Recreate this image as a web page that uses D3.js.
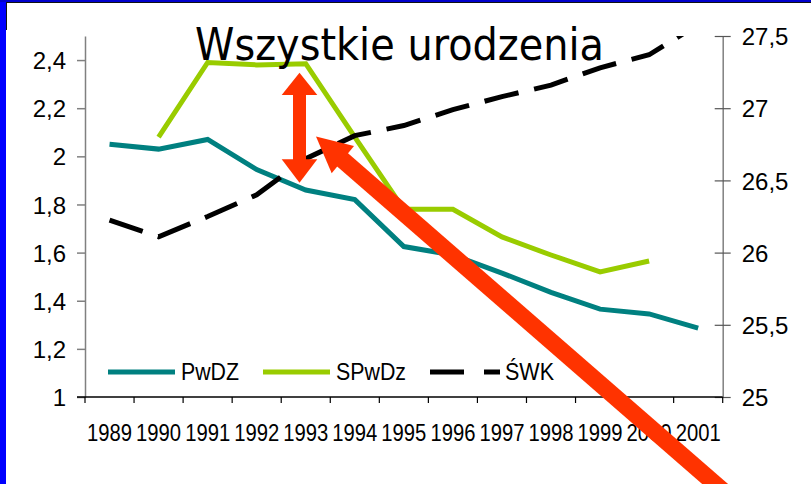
<!DOCTYPE html>
<html>
<head>
<meta charset="utf-8">
<script src="https://cdn.jsdelivr.net/npm/d3@7"></script>
<style>
    body { margin: 0; background: #fff; }
    svg { display: block; }
</style>
</head>
<body>
<div id="viz"></div>
<script>
const years = ["1989", "1990", "1991", "1992", "1993", "1994", "1995", "1996", "1997", "1998", "1999", "2000", "2001"]
const pwdz = [2.05, 2.03, 2.07, 1.945, 1.86, 1.82, 1.625, 1.59, 1.515, 1.435, 1.365, 1.345, 1.286]
const spwdz = [null, 2.08, 2.39, 2.38, 2.385, 2.08, 1.78, 1.78, 1.665, 1.59, 1.52, 1.565, null]
const swk = [26.225, 26.11, 26.25, 26.40, 26.65, 26.81, 26.88, 26.99, 27.08, 27.16, 27.28, 27.37, 27.58]
const leftTicks = [1, 1.2, 1.4, 1.6, 1.8, 2, 2.2, 2.4]
const rightTicks = [25, 25.5, 26, 26.5, 27, 27.5]
const seriesNames = ["PwDZ", "SPwDz", "ŚWK"]
const title = "Wszystkie urodzenia"

const FONT = "'Liberation Sans', Arial, sans-serif"
const W = 811, H = 484
const svg = d3.select("#viz").append("svg").attr("width", W).attr("height", H)
    .attr("font-family", FONT)

// frame
svg.append("rect").attr("x", 0).attr("y", 0).attr("width", 6).attr("height", H).attr("fill", "#0000ff")
svg.append("rect").attr("x", 0).attr("y", 0).attr("width", W).attr("height", 2).attr("fill", "#0000cc")
svg.append("line").attr("x1", 6).attr("x2", W).attr("y1", 2.5).attr("y2", 2.5).attr("stroke", "#111").attr("stroke-width", 1)
svg.append("line").attr("x1", 6.5).attr("x2", 6.5).attr("y1", 2).attr("y2", 30).attr("stroke", "#111").attr("stroke-width", 1)

const mLeft = 85, mRight = 722.7, mTop = 36, mBottom = 397
const x = d3.scaleBand().domain(years).range([mLeft, mRight]).padding(0)
const cx = d => x(d) + x.bandwidth() / 2
const yL = d3.scaleLinear().domain([1, 2.5]).range([mBottom, mTop])
const yR = d3.scaleLinear().domain([25, 27.5]).range([mBottom, mTop])
const fmt = d => String(d).replace(".", ",")

svg.append("clipPath").attr("id", "plot")
    .append("rect").attr("x", mLeft).attr("y", mTop).attr("width", mRight - mLeft).attr("height", mBottom - mTop)

// left axis
const gL = svg.append("g").attr("transform", `translate(${mLeft},0)`)
    .call(d3.axisLeft(yL).tickValues(leftTicks).tickFormat(fmt).tickSizeOuter(0).tickSizeInner(8).tickPadding(11))
    .attr("font-family", FONT)
gL.select(".domain").attr("stroke", "#808080").attr("stroke-width", 1.5)
gL.selectAll(".tick line").attr("stroke", "#808080").attr("stroke-width", 1.5)
gL.selectAll(".tick text").attr("font-size", 24).attr("fill", "#000").attr("dy", "0.36em")

// right axis
const gR = svg.append("g").attr("transform", `translate(${mRight},0)`)
    .call(d3.axisRight(yR).tickValues(rightTicks).tickFormat(fmt).tickSizeOuter(0).tickSizeInner(8).tickPadding(11))
    .attr("font-family", FONT)
gR.select(".domain").attr("stroke", "#808080").attr("stroke-width", 1.5)
gR.selectAll(".tick line").attr("x1", -8).attr("stroke", "#555").attr("stroke-width", 1.2)
gR.selectAll(".tick text").attr("font-size", 24).attr("fill", "#000").attr("dy", "0.36em")

// bottom axis
const gB = svg.append("g").attr("transform", `translate(0,${mBottom})`)
    .call(d3.axisBottom(x).tickSize(0).tickPadding(0))
    .attr("font-family", FONT)
gB.select(".domain").remove()
gB.append("line").attr("x1", mLeft - 8).attr("x2", mRight).attr("stroke", "#000").attr("stroke-width", 1.5)
gB.selectAll(".tick text").attr("font-size", 24).attr("fill", "#000").attr("y", 44).attr("dy", 0)
    .attr("textLength", 45).attr("lengthAdjust", "spacingAndGlyphs")
gB.selectAll(".bticks").data(years.concat(["end"])).join("line")
    .attr("x1", d => d === "end" ? mRight : x(d)).attr("x2", d => d === "end" ? mRight : x(d))
    .attr("y1", 0).attr("y2", 6).attr("stroke", "#000").attr("stroke-width", 1.2)

// series
const plot = svg.append("g").attr("clip-path", "url(#plot)")
const lineL = d3.line().defined(d => d[1] != null).x(d => cx(d[0])).y(d => yL(d[1]))
const lineR = d3.line().x(d => cx(d[0])).y(d => yR(d[1]))

plot.append("path").datum(d3.zip(years, pwdz)).attr("d", lineL)
    .attr("fill", "none").attr("stroke", "#008080").attr("stroke-width", 5)
plot.append("path").datum(d3.zip(years, spwdz)).attr("d", lineL)
    .attr("fill", "none").attr("stroke", "#99cc00").attr("stroke-width", 5)
plot.append("path").datum(d3.zip(years, swk)).attr("d", lineR)
    .attr("fill", "none").attr("stroke", "#000").attr("stroke-width", 5).attr("stroke-dasharray", "35,16")

// legend
const legend = [
    { name: seriesNames[0], x: 108, color: "#008080", dash: null, len: 58 },
    { name: seriesNames[1], x: 263, color: "#99cc00", dash: null, len: 70 },
    { name: seriesNames[2], x: 430, color: "#000", dash: "34,20", len: 49 },
]
const lg = svg.append("g")
legend.forEach(d => {
    lg.append("line").attr("x1", d.x).attr("x2", d.x + 70 - (d.dash ? 0 : 3)).attr("y1", 372).attr("y2", 372)
        .attr("stroke", d.color).attr("stroke-width", 5).attr("stroke-dasharray", d.dash)
    lg.append("text").attr("x", d.x + 73 + (d.dash ? 2 : 0)).attr("y", 380).text(d.name)
        .attr("font-size", 24).attr("textLength", d.len).attr("lengthAdjust", "spacingAndGlyphs")
})

// title
svg.append("text").attr("x", 195).attr("y", 60).text(title)
    .attr("font-family", "'Comic Sans MS', 'DejaVu Sans', sans-serif").attr("font-size", 44)
    .attr("textLength", 409).attr("lengthAdjust", "spacingAndGlyphs")

// red arrows (annotation)
const red = "#ff3300"
svg.append("rect").attr("x", 293).attr("y", 94).attr("width", 13).attr("height", 66).attr("fill", red)
svg.append("polygon").attr("points", "299.5,72.7 281.7,95 317.3,95").attr("fill", red)
svg.append("polygon").attr("points", "299.5,182.7 281.7,159.3 317.3,159.3").attr("fill", red)

svg.append("line").attr("x1", 337).attr("y1", 155).attr("x2", 745).attr("y2", 510)
    .attr("stroke", red).attr("stroke-width", 17)
svg.append("polygon").attr("points", "316,136.5 331.7,173.3 354,146").attr("fill", red)
</script>
</body>
</html>
